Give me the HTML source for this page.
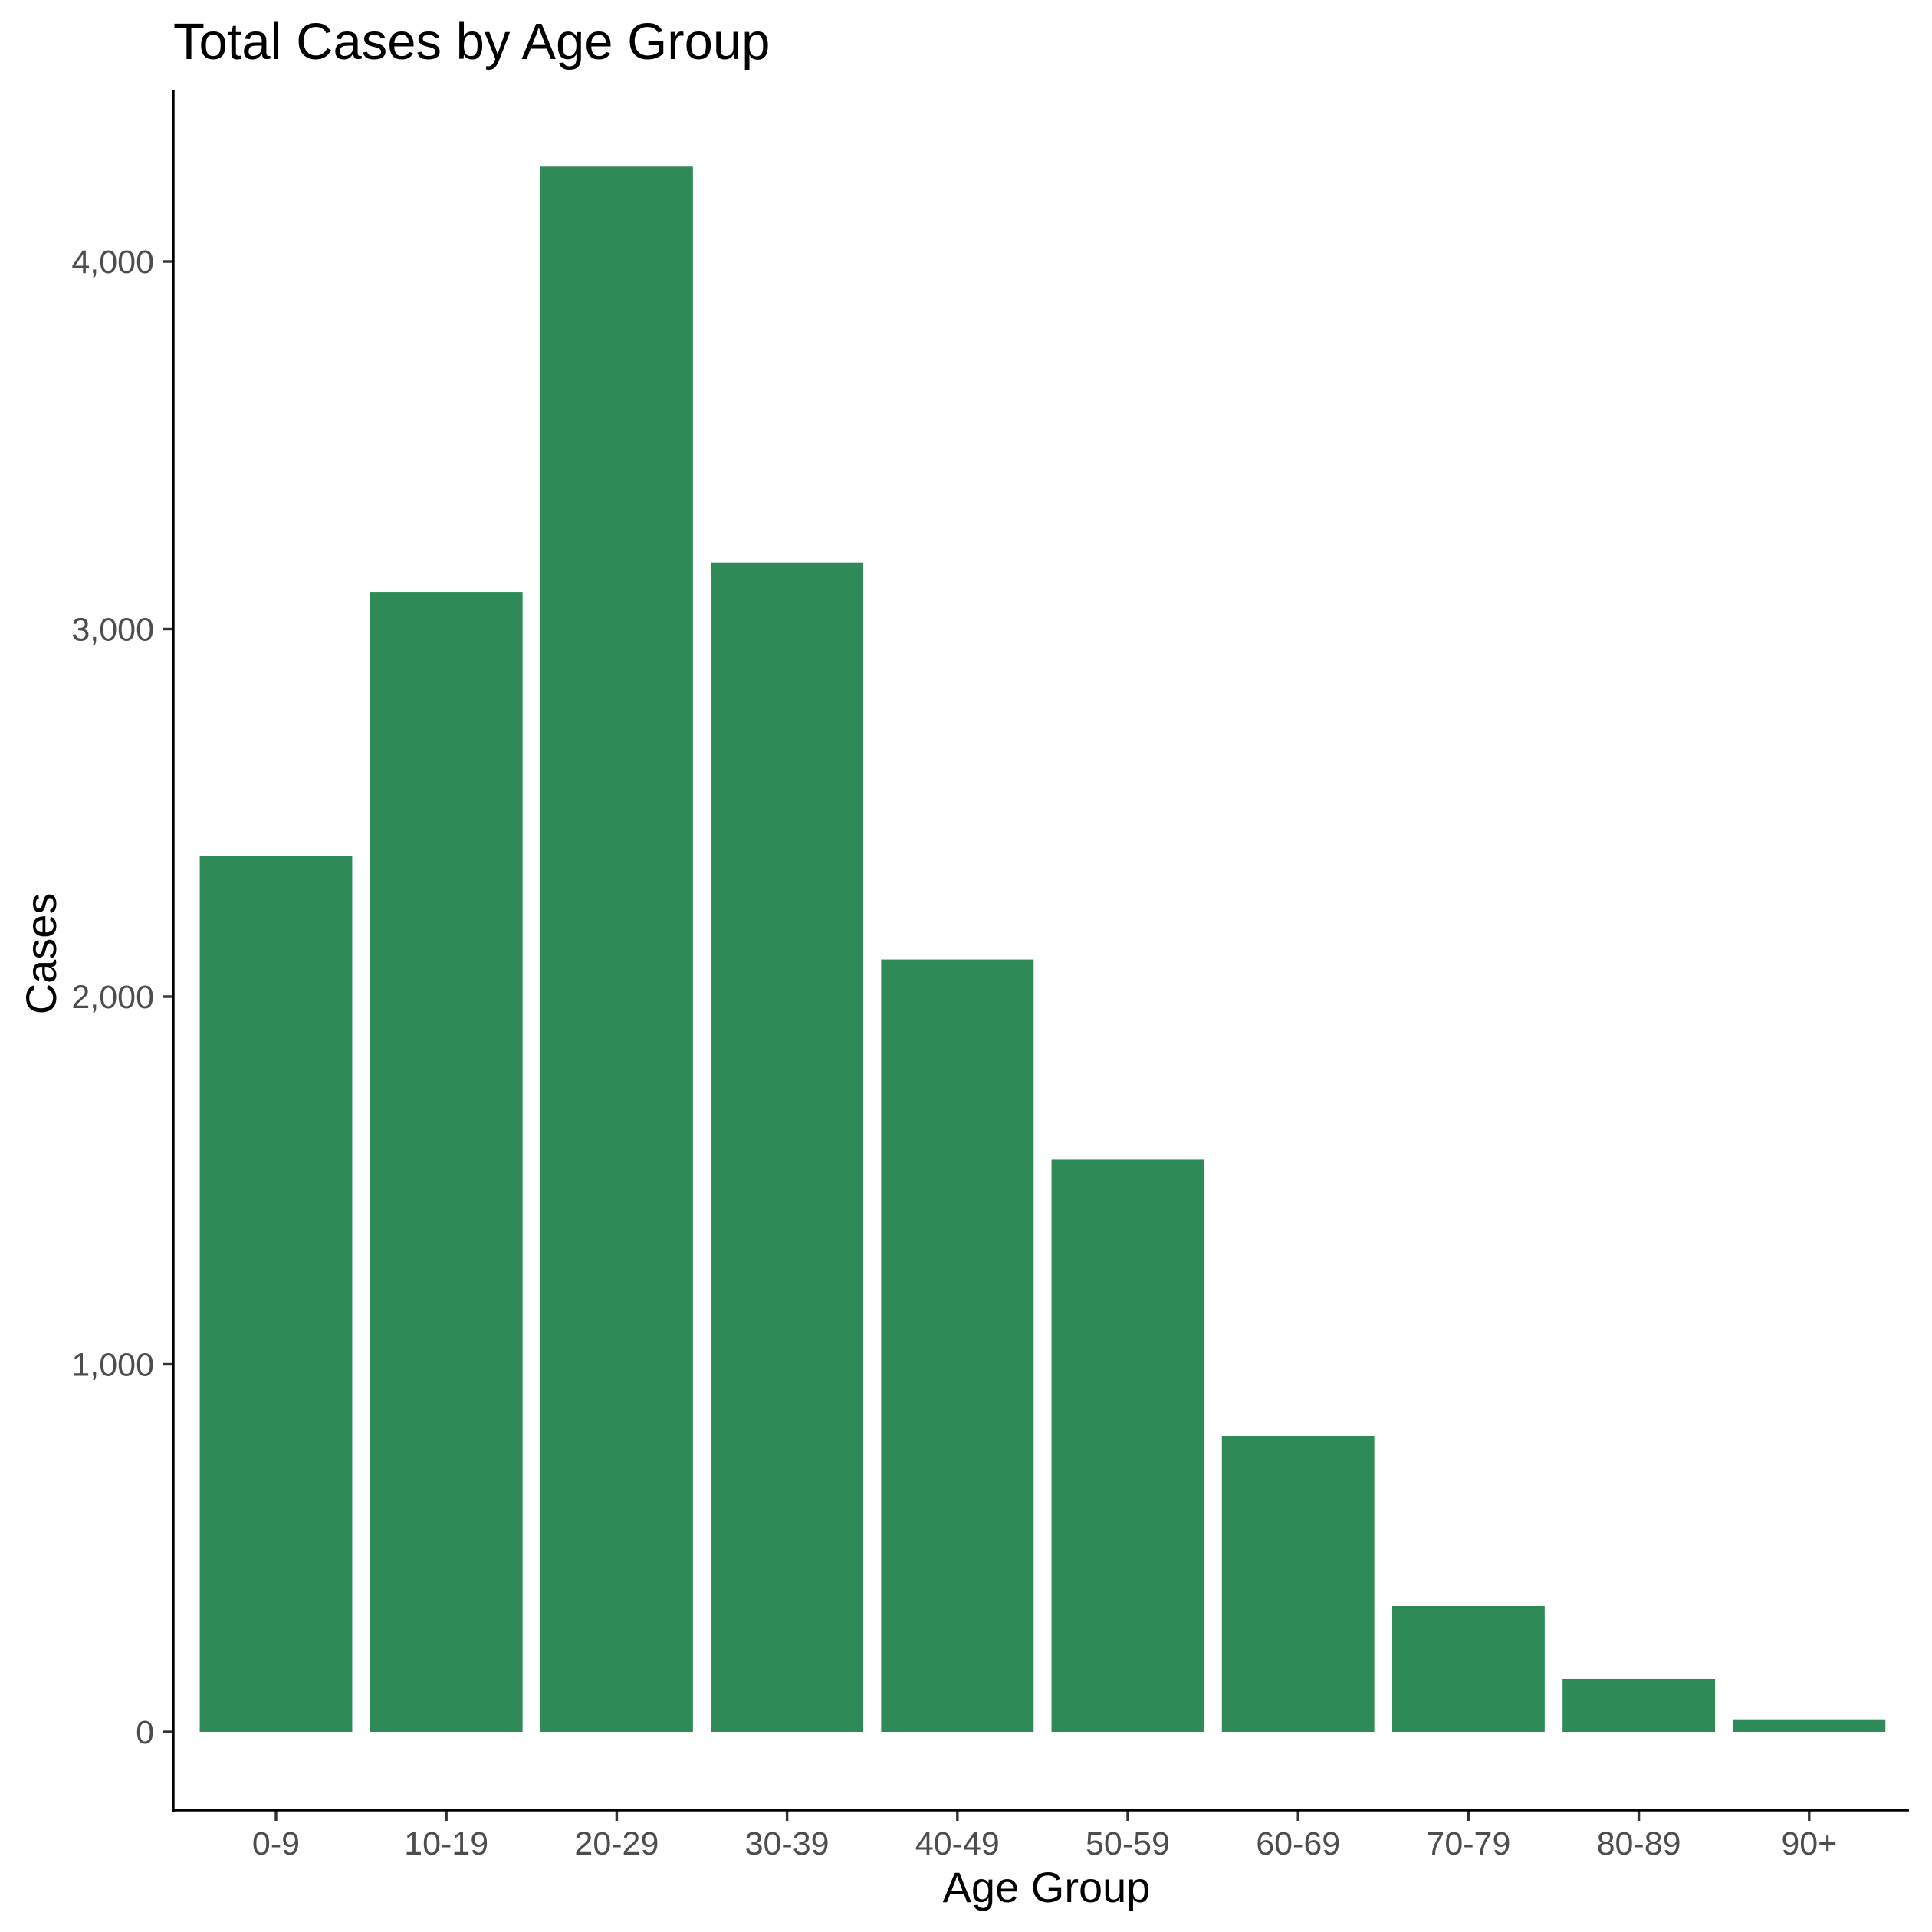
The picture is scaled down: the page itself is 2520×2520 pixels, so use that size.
<!DOCTYPE html>
<html><head><meta charset="utf-8"><style>
html,body{margin:0;padding:0;background:#fff;}
svg{display:block;font-family:"Liberation Sans",Arial,sans-serif;}
</style></head><body>
<svg id="chart" width="2520" height="2520" viewBox="0 0 2520 2520" xmlns="http://www.w3.org/2000/svg">
<rect width="2520" height="2520" fill="#fff"/>
<text x="226" y="77" font-size="67" fill="#000">Total Cases by Age Group</text>
<g id="bars"></g>
<g id="yaxis"></g>
<g id="xaxis"></g>
<line x1="226" y1="118" x2="226" y2="2363" stroke="#000" stroke-width="3.4"/>
<line x1="224" y1="2361" x2="2490" y2="2361" stroke="#000" stroke-width="3.4"/>
<text x="1365" y="2481" font-size="56" text-anchor="middle" fill="#000">Age Group</text>
<text transform="translate(73,1244) rotate(-90)" font-size="56" text-anchor="middle" fill="#000">Cases</text>
</svg>
<script>
const categories = ["0-9","10-19","20-29","30-39","40-49","50-59","60-69","70-79","80-89","90+"];
const cases = [2383,3101,4258,3181,2101,1557,805,342,144,34];
const yTicks = [0,1000,2000,3000,4000];
const yTickLabels = ["0","1,000","2,000","3,000","4,000"];

const NS="http://www.w3.org/2000/svg";
const y0=2259, pxPer=0.4795;
function yScale(v){return y0 - v*pxPer;}
const step=222.2, firstCenter=360;
function xScale(i){return firstCenter + i*step;}
const bw=step*0.895;
const axisY=2361;

const gb=document.getElementById('bars');
cases.forEach((v,i)=>{
  const r=document.createElementNS(NS,'rect');
  r.setAttribute('x',xScale(i)-bw/2);
  r.setAttribute('y',yScale(v));
  r.setAttribute('width',bw);
  r.setAttribute('height',y0-yScale(v));
  r.setAttribute('fill','#2E8B57');
  
  
  gb.appendChild(r);
});
const gy=document.getElementById('yaxis');
yTicks.forEach((t,i)=>{
  const l=document.createElementNS(NS,'line');
  l.setAttribute('x1',212);l.setAttribute('x2',226);
  l.setAttribute('y1',yScale(t));l.setAttribute('y2',yScale(t));
  l.setAttribute('stroke','#333');l.setAttribute('stroke-width',3.4);
  
  
  gy.appendChild(l);
  const tx=document.createElementNS(NS,'text');
  tx.setAttribute('x',201);tx.setAttribute('y',yScale(t)+15);
  tx.setAttribute('text-anchor','end');tx.setAttribute('font-size',43);
  tx.setAttribute('fill','#4d4d4d');
  tx.textContent=yTickLabels[i];
  
  
  gy.appendChild(tx);
});
const gx=document.getElementById('xaxis');
categories.forEach((c,i)=>{
  const l=document.createElementNS(NS,'line');
  l.setAttribute('x1',xScale(i));l.setAttribute('x2',xScale(i));
  l.setAttribute('y1',axisY);l.setAttribute('y2',axisY+14);
  l.setAttribute('stroke','#333');l.setAttribute('stroke-width',3.4);
  
  
  gx.appendChild(l);
  const tx=document.createElementNS(NS,'text');
  tx.setAttribute('x',xScale(i));tx.setAttribute('y',axisY+58);
  tx.setAttribute('text-anchor','middle');tx.setAttribute('font-size',43);
  tx.setAttribute('fill','#4d4d4d');
  tx.textContent=c;
  
  
  gx.appendChild(tx);
});
</script>
</body></html>
